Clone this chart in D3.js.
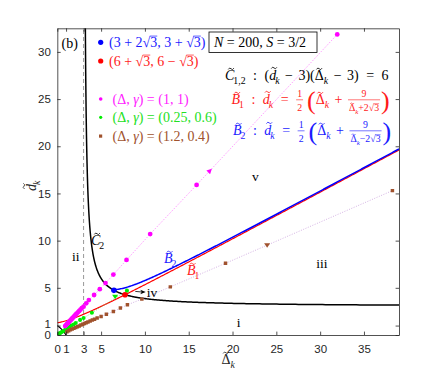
<!DOCTYPE html>
<html>
<head>
<meta charset="utf-8">
<script src="https://cdn.jsdelivr.net/npm/d3@7"></script>
<style>
  body { margin: 0; background: #fff; }
  svg text { white-space: pre; }
</style>
</head>
<body>
<svg id="chart"></svg>
<script>
var width = 440,
    height = 372;

// series: (Delta_k, d_k)
var magentaX = [0.9, 1.0, 1.1, 1.2, 1.3, 1.4, 1.5, 1.6, 1.7, 1.8, 1.9, 2.0, 2.1, 2.2, 2.35, 2.5, 2.65, 2.8, 3.0, 3.3, 3.6, 4.2, 4.85, 5.5, 6.4, 7.9, 10.6, 15.9, 31.95];
var magentaY = [0.95, 1.05, 1.15, 1.25, 1.35, 1.45, 1.55, 1.65, 1.75, 1.85, 1.95, 2.05, 2.15, 2.25, 2.4, 2.55, 2.7, 2.85, 3.0, 3.36, 3.7, 4.24, 4.85, 5.5, 6.4, 7.95, 10.7, 15.9, 31.85];
var greenX = [0.1, 0.2, 0.3, 0.45, 0.6, 0.75, 0.9, 1.05, 1.2, 1.4, 1.6, 1.85, 2.1, 2.6, 3.0, 3.95, 7.95];
var greenY = [0.08, 0.14, 0.2, 0.28, 0.37, 0.46, 0.55, 0.64, 0.73, 0.85, 1.0, 1.12, 1.28, 1.6, 1.8, 2.35, 4.7];
var brownX = [1.1, 1.3, 1.5, 1.7, 1.9, 2.1, 2.3, 2.5, 2.7, 2.9, 3.1, 3.3, 3.5, 3.75, 4.0, 4.25, 4.55, 5.0, 5.6, 6.4, 7.2, 8.0, 9.65, 12.9, 19.2, 38.25];
var brownY = [0.35, 0.45, 0.55, 0.63, 0.72, 0.8, 0.88, 0.96, 1.05, 1.13, 1.21, 1.3, 1.38, 1.48, 1.58, 1.68, 1.8, 1.96, 2.2, 2.5, 2.85, 3.2, 3.8, 5.1, 7.6, 15.3];

// direction arrows on the trajectories
var arrowX = [17.3, 6.6, 23.95];
var arrowY = [17.3, 4.05, 9.5];
var arrowColor = ["#ff00ff", "#00ee00", "#a0522d"];

// fixed points (from the legend)
var pointX = [3 + 2 * Math.sqrt(3), 6 + Math.sqrt(3)];
var pointY = [3 + Math.sqrt(3), 6 - Math.sqrt(3)];
var pointColor = ["#0000ff", "#ff0000"];

var xTicks = [0, 1, 3, 5, 10, 15, 20, 25, 30, 35];
var yTicks = [0, 1, 5, 10, 15, 20, 25, 30];

var regionText = ["i", "ii", "iii", "iv", "v"];
var regionX = [20.7, 2.1, 30.2, 10.8, 22.6];
var regionY = [1.3, 8.3, 7.5, 4.4, 16.7];

var SERIF = "'Liberation Serif', 'DejaVu Serif', serif";
var SANS = "'Liberation Sans', Arial, sans-serif";

var margin = {left: 57.3, right: 41, top: 28.3, bottom: 37};

var x = d3.scaleLinear().domain([0, 39]).range([margin.left, width - margin.right]);
var y = d3.scaleLinear().domain([0, 32.5]).range([height - margin.bottom, margin.top]);

var svg = d3.select("#chart")
    .attr("width", width)
    .attr("height", height);

svg.append("defs").append("clipPath")
    .attr("id", "clip")
    .append("rect")
    .attr("x", x(0))
    .attr("y", y(32.5))
    .attr("width", x(39) - x(0))
    .attr("height", y(0) - y(32.5));

var plot = svg.append("g").attr("clip-path", "url(#clip)");

// asymptote
plot.append("line")
    .attr("x1", x(3)).attr("x2", x(3))
    .attr("y1", y(0)).attr("y2", y(32.5))
    .attr("stroke", "#8c8c8c")
    .attr("stroke-width", 0.9)
    .attr("stroke-dasharray", "4,3");

var line = d3.line()
    .x(function (d) { return x(d[0]); })
    .y(function (d) { return y(d[1]); });

// curve C: (d-3)(D-3)=6
var c2 = d3.range(0, 401).map(function (i) {
    var D = 3 + 0.18 * Math.pow(36 / 0.18, i / 400);
    return [D, 3 + 6 / (D - 3)];
});
var c1 = d3.range(0, 41).map(function (i) {
    var D = i / 40;
    return [D, 3 + 6 / (D - 3)];
});
plot.append("path").datum(c2).attr("d", line)
    .attr("fill", "none").attr("stroke", "#000").attr("stroke-width", 1.5);
plot.append("path").datum(c1).attr("d", line)
    .attr("fill", "none").attr("stroke", "#000").attr("stroke-width", 1.2);

// B1 and B2
var r3 = Math.sqrt(3);
var b1 = d3.range(0, 391).map(function (i) {
    var D = i / 10;
    return [D, 0.5 * (D + 9 / (D + 2 * r3))];
});
var b2 = d3.range(0, 301).map(function (i) {
    var D = pointX[0] + i * (39 - pointX[0]) / 300;
    return [D, 0.5 * (D + 9 / (D - 2 * r3))];
});
plot.append("path").datum(b1).attr("d", line)
    .attr("fill", "none").attr("stroke", "#ff0000").attr("stroke-width", 1.2);
plot.append("path").datum(b2).attr("d", line)
    .attr("fill", "none").attr("stroke", "#0000ff").attr("stroke-width", 1.5)
    .attr("transform", "translate(0,-0.8)");

// trajectories
function series(xs, ys, lineColor, color, shape, size) {
    var pts = xs.map(function (d, i) { return [d, ys[i]]; });
    plot.append("path").datum(pts).attr("d", line)
        .attr("fill", "none")
        .attr("stroke", lineColor)
        .attr("stroke-width", 0.8)
        .attr("stroke-dasharray", "1,1.5");
    var sym = d3.symbol().type(shape === "square" ? d3.symbolSquare : d3.symbolCircle).size(size);
    plot.append("g").selectAll("path")
        .data(pts)
        .enter()
        .append("path")
        .attr("d", sym)
        .attr("transform", function (d) { return "translate(" + x(d[0]) + "," + y(d[1]) + ")"; })
        .attr("fill", color);
}
series(greenX, greenY, "#66ee66", "#00ee00", "circle", 13);
series(brownX, brownY, "#c9a0dc", "#a0522d", "square", 12);
series(magentaX, magentaY, "#ff66ff", "#ff00ff", "circle", 18);

// arrows
plot.append("g").selectAll("path")
    .data(arrowX)
    .enter()
    .append("path")
    .attr("d", function (d, i) {
        return i === 0 ? "M3,-3L-2.5,-1.2L1.2,2.5Z" : "M-3,-2L3,-2L0,2.5Z";
    })
    .attr("transform", function (d, i) { return "translate(" + x(d) + "," + y(arrowY[i]) + ")"; })
    .attr("fill", function (d, i) { return arrowColor[i]; });

// black arrow at iv
plot.append("line")
    .attr("x1", x(8.9)).attr("x2", x(9.7))
    .attr("y1", y(4.62)).attr("y2", y(4.55))
    .attr("stroke", "#000").attr("stroke-width", 0.8);
plot.append("path")
    .attr("d", "M3,0L-2.5,-2.2L-1,0L-2.5,2.2Z")
    .attr("transform", "translate(" + x(9.75) + "," + y(4.55) + ")")
    .attr("fill", "#000");

// fixed points
plot.append("g").selectAll("circle")
    .data(pointX)
    .enter()
    .append("circle")
    .attr("cx", function (d) { return x(d); })
    .attr("cy", function (d, i) { return y(pointY[i]); })
    .attr("r", 2.8)
    .attr("fill", function (d, i) { return pointColor[i]; });

// axes
var axes = svg.append("g").style("font-family", SANS).style("font-size", "11.5px");

axes.append("g")
    .attr("transform", "translate(0," + y(0) + ")")
    .call(d3.axisBottom(x).tickValues(xTicks).tickSizeInner(-3.4).tickSizeOuter(0).tickPadding(9.5));
axes.append("g")
    .attr("transform", "translate(0," + y(32.5) + ")")
    .call(d3.axisTop(x).tickValues(xTicks).tickSizeInner(-3.4).tickSizeOuter(0).tickFormat(""));
var yAxis = axes.append("g")
    .attr("transform", "translate(" + x(0) + ",0)")
    .call(d3.axisLeft(y).tickValues(yTicks).tickSizeInner(-3.4).tickSizeOuter(0).tickPadding(6.5));
axes.append("g")
    .attr("transform", "translate(" + x(39) + ",0)")
    .call(d3.axisRight(y).tickValues(yTicks).tickSizeInner(-3.4).tickSizeOuter(0).tickFormat(""));

axes.selectAll(".domain").attr("stroke", "#262626").attr("stroke-width", 0.8);
axes.selectAll(".tick line").attr("stroke", "#262626").attr("stroke-width", 0.8);
axes.selectAll(".tick text").attr("fill", "#262626").style("font-size", "11.5px");
// "1" sits right on top of "0"; lift it a touch
yAxis.selectAll(".tick text").filter(function (d) { return d === 1; }).attr("y", -1.5);

// ---- math text ----
// items: strings, {t, i (italic), tl (tilde), sub}, {sq}, {fr:[num, den]}, {sp}
function drawItems(g, x0, y0, items, fs, color) {
    var cx = x0;
    items.forEach(function (it) {
        if (typeof it === "string") it = {t: it};
        if (it.sp) { cx += it.sp; return; }
        if (it.fr) {
            var f = fs * 0.7;
            var gn = g.append("g"), gd = g.append("g");
            var wn = drawItems(gn, 0, 0, it.fr[0], f, color);
            var wd = drawItems(gd, 0, 0, it.fr[1], f, color);
            var w = Math.max(wn, wd) + 2;
            gn.attr("transform", "translate(" + (cx + (w - wn) / 2) + "," + (y0 - fs * 0.47) + ")");
            gd.attr("transform", "translate(" + (cx + (w - wd) / 2) + "," + (y0 + fs * 0.52) + ")");
            g.append("line")
                .attr("x1", cx).attr("x2", cx + w)
                .attr("y1", y0 - fs * 0.3).attr("y2", y0 - fs * 0.3)
                .attr("stroke", color).attr("stroke-width", 0.6);
            cx += w + 1;
            return;
        }
        if (it.sq) {
            var s = g.append("text").attr("x", cx).attr("y", y0)
                .style("font-family", SERIF).style("font-size", fs + "px")
                .attr("fill", color).text("\u221A");
            var w1 = s.node().getComputedTextLength();
            var a = g.append("text").attr("x", cx + w1).attr("y", y0)
                .style("font-family", SERIF).style("font-size", fs + "px")
                .attr("fill", color).text(it.sq);
            var w2 = a.node().getComputedTextLength();
            g.append("line")
                .attr("x1", cx + w1 - 0.5).attr("x2", cx + w1 + w2)
                .attr("y1", y0 - fs * 0.78).attr("y2", y0 - fs * 0.78)
                .attr("stroke", color).attr("stroke-width", fs * 0.05);
            cx += w1 + w2;
            return;
        }
        var t = g.append("text").attr("x", cx).attr("y", y0 + (it.dy || 0))
            .style("font-family", SERIF)
            .style("font-size", (it.fs || fs) + "px")
            .style("font-style", it.i ? "italic" : "normal")
            .attr("fill", color)
            .text(it.t);
        var wt = t.node().getComputedTextLength();
        if (it.tl) {
            var a2 = fs * 0.2, h = fs * 0.045;
            var tx = cx + wt / 2 + (it.i ? fs * 0.1 : 0);
            var ty = y0 - fs * (it.tl === "d" ? 0.86 : 0.8);
            g.append("path")
                .attr("d", "M" + (-a2) + "," + h + "Q" + (-a2 / 2) + "," + (-3 * h) + " 0,0 T" + a2 + "," + (-h))
                .attr("transform", "translate(" + tx + "," + ty + ")")
                .attr("fill", "none")
                .attr("stroke", color)
                .attr("stroke-width", fs * 0.06);
        }
        cx += wt;
        if (it.sub) {
            var st = g.append("text").attr("x", cx - (it.i ? 1 : 0)).attr("y", y0 + fs * 0.28)
                .style("font-family", SERIF)
                .style("font-size", (fs * 0.7) + "px")
                .style("font-style", /[a-z]/.test(it.sub) ? "italic" : "normal")
                .attr("fill", color)
                .text(it.sub);
            cx += st.node().getComputedTextLength() - (it.i ? 1 : 0);
        }
    });
    return cx - x0;
}

function dk() { return {t: "d", i: true, tl: "d", sub: "k"}; }
function Dk() { return {t: "\u0394", tl: "C", sub: "k"}; }

var txt = svg.append("g");

drawItems(txt, 61.5, 48, ["(b)"], 14, "#000");

// box
txt.append("rect")
    .attr("x", 209).attr("y", 32).attr("width", 108).attr("height", 20.5)
    .attr("fill", "#fff").attr("stroke", "#000").attr("stroke-width", 0.8);
drawItems(txt, 214, 47, [{t: "N", i: true}, " = 200, ", {t: "S", i: true}, " = 3/2"], 14, "#000");

// legend
var legend = [
    {c: "#1a1aff", y: 47, items: ["(3 + 2", {sq: "3"}, ", 3 + ", {sq: "3"}, ")"]},
    {c: "#ff1a1a", y: 66, items: ["(6 + ", {sq: "3"}, ", 6 \u2212 ", {sq: "3"}, ")"]},
    {c: "#ff22ff", y: 104, items: ["(\u0394, ", {t: "\u03B3", i: true}, ") = (1, 1)"]},
    {c: "#22e022", y: 122, items: ["(\u0394, ", {t: "\u03B3", i: true}, ") = (0.25, 0.6)"]},
    {c: "#a0522d", y: 141, items: ["(\u0394, ", {t: "\u03B3", i: true}, ") = (1.2, 0.4)"]}
];
legend.forEach(function (l, i) {
    drawItems(txt, i < 2 ? 109 : 112.5, l.y, l.items, 14, l.c);
});
txt.append("circle").attr("cx", 100.7).attr("cy", 42.3).attr("r", 2.6).attr("fill", "#0000ff");
txt.append("circle").attr("cx", 100.7).attr("cy", 61).attr("r", 2.6).attr("fill", "#ff0000");
txt.append("circle").attr("cx", 100.7).attr("cy", 99).attr("r", 1.8).attr("fill", "#ff00ff");
txt.append("circle").attr("cx", 100.7).attr("cy", 117.3).attr("r", 1.6).attr("fill", "#00ee00");
txt.append("rect").attr("x", 99).attr("y", 134.5).attr("width", 3.2).attr("height", 3.2).attr("fill", "#a0522d");

// equations
var G = 7.5, g2 = 5.5;
drawItems(txt, 225, 80, [{t: "C", i: true, tl: "C", sub: "1,2"}, {sp: G}, ":", {sp: G}, "(", dk(), {sp: g2}, "\u2212", {sp: g2},
    "3)(", Dk(), {sp: g2}, "\u2212", {sp: g2}, "3)", {sp: G}, "=", {sp: G}, "6"], 14, "#000");

function bEq(sign, idx) {
    return [{t: "B", i: true, tl: "C", sub: idx}, {sp: G}, ":", {sp: G}, dk(), {sp: G}, "=", {sp: G},
        {fr: [["1"], ["2"]]}, {sp: 3}, {t: "(", fs: 26, dy: 5},
        Dk(), {sp: g2}, "+", {sp: g2},
        {fr: [["9"], [Dk(), sign + "2", {sq: "3"}]]},
        {t: ")", fs: 26, dy: 5}];
}
drawItems(txt, 231.5, 104, bEq("+", "1"), 14, "#ff1a1a");
drawItems(txt, 233, 135, bEq("\u2212", "2"), 14, "#1a1aff");

// curve labels
drawItems(txt, 91, 245, [{t: "C", i: true, tl: "C", sub: "2"}], 14, "#000");
drawItems(txt, 164, 263, [{t: "B", i: true, tl: "C", sub: "2"}], 14, "#1a1aff");
drawItems(txt, 187, 275, [{t: "B", i: true, tl: "C", sub: "1"}], 14, "#ff1a1a");

// regions
regionText.forEach(function (r, i) {
    var g = txt.append("g");
    var w = drawItems(g, 0, 0, [r], 13.5, "#000");
    g.attr("transform", "translate(" + (x(regionX[i]) - w / 2) + "," + (y(regionY[i]) + 4) + ")");
});

// axis labels
var gx = txt.append("g");
var wx = drawItems(gx, 0, 0, [Dk()], 14, "#262626");
gx.attr("transform", "translate(" + (x(19.5) - wx / 2) + ",364)");

var gy = txt.append("g");
var wy = drawItems(gy, 0, 0, [dk()], 14, "#262626");
gy.attr("transform", "translate(36," + (y(15.8) + wy / 2) + ") rotate(-90)");
</script>
</body>
</html>
